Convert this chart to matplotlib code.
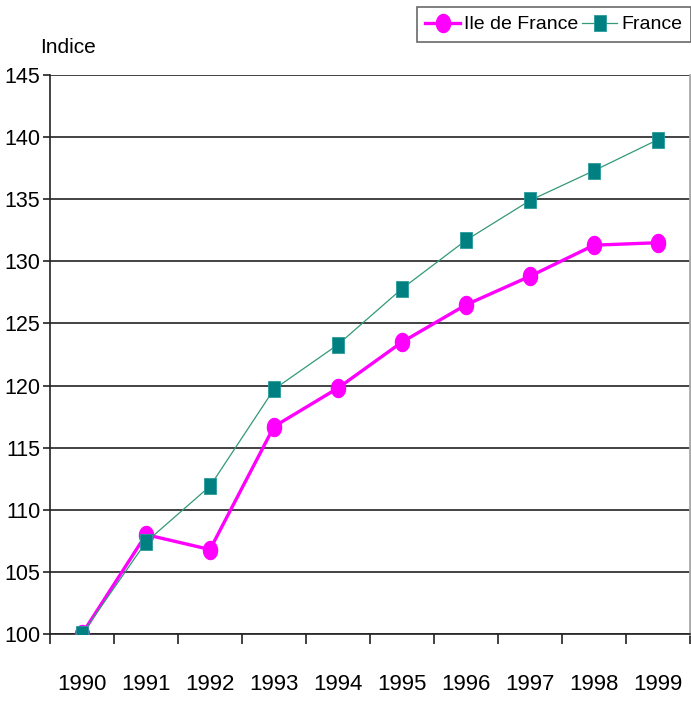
import numpy as np
import matplotlib.pyplot as plt
from matplotlib.ticker import FixedLocator, NullFormatter

plt.rcParams['font.family'] = ['Liberation Sans', 'DejaVu Sans']

years = ['1990', '1991', '1992', '1993', '1994', '1995', '1996', '1997', '1998', '1999']
ile_de_france = [100, 108.0, 106.8, 116.7, 119.8, 123.5, 126.5, 128.8, 131.3, 131.5]
france = [100, 107.4, 111.9, 119.7, 123.3, 127.8, 131.7, 134.9, 137.3, 139.8]
y_ticks = [100, 105, 110, 115, 120, 125, 130, 135, 140, 145]

# tall ellipse / tall rectangle markers like the original
t = np.linspace(0, 2 * np.pi, 40)
ellipse = list(zip(0.78 * np.cos(t), np.sin(t)))
rect = [(-0.75, -1), (0.75, -1), (0.75, 1), (-0.75, 1), (-0.75, -1)]

fig = plt.figure(figsize=(6.91, 7.02), dpi=100)
ax = fig.add_axes([50 / 691, 68 / 702, 640 / 691, 559 / 702])

x = np.arange(len(years))
ax.plot(x, ile_de_france, color='#ff00ff', lw=2.4, marker=ellipse, ms=13,
        mec='#ff00ff', mfc='#ff00ff', label='Ile de France', zorder=3)
ax.plot(x, france, color='#339977', lw=0.9, marker=rect, ms=12,
        mec='#2a9a9a', mew=0.6, mfc='#008080', label='France', zorder=4)

ax.set_xlim(-0.5, len(years) - 0.5)
ax.set_ylim(100, 145)
ax.set_yticks(y_ticks)
ax.set_yticklabels([str(v) for v in y_ticks], fontsize=15.5)
ax.yaxis.grid(True, color='#222222', lw=1.2)
ax.set_axisbelow(True)

ax.set_xticks(x)
ax.set_xticklabels(years, fontsize=16)
ax.xaxis.set_minor_locator(FixedLocator(np.arange(-0.5, len(years), 1)))
ax.xaxis.set_minor_formatter(NullFormatter())
ax.tick_params(axis='x', which='major', length=0, pad=29)
ax.tick_params(axis='x', which='minor', length=7, width=1.2, color='#222222')
ax.tick_params(axis='y', length=5, width=1.2, pad=2, color='#222222')

ax.spines['top'].set_visible(False)
ax.spines['right'].set_color('#aaaaaa')
ax.spines['right'].set_linewidth(2)
ax.spines['left'].set_color('#222222')
ax.spines['left'].set_linewidth(1.2)
ax.spines['bottom'].set_color('#222222')
ax.spines['bottom'].set_linewidth(1.2)

fig.text(40 / 691, 1 - 53 / 702, 'Indice', fontsize=15, ha='left', va='baseline')

leg = fig.legend(loc='upper right', bbox_to_anchor=(1.0, 1 - 7 / 702), ncol=2,
                 fontsize=14, frameon=True, fancybox=False, handlelength=1.8,
                 handletextpad=0.2, columnspacing=0.2, borderpad=0.45,
                 borderaxespad=0)
leg.get_frame().set_edgecolor('#444444')
leg.get_frame().set_linewidth(1.2)

fig.savefig('out.png', dpi=100)
